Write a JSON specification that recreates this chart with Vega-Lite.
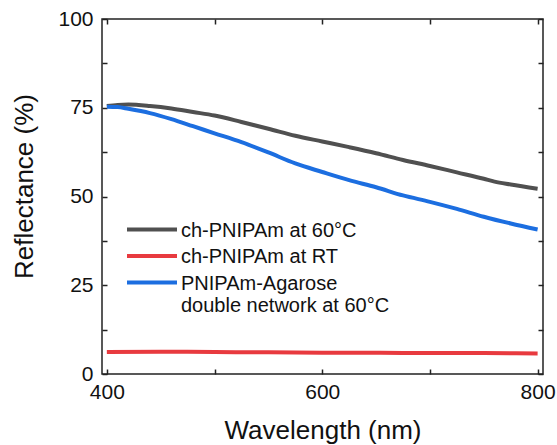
{
  "$schema": "https://vega.github.io/schema/vega-lite/v6.json",
  "width": 441,
  "height": 355,
  "autosize": {"type": "none"},
  "padding": {"left": 102, "top": 19, "right": 14, "bottom": 71},
  "config": {
    "font": "Liberation Sans",
    "view": {"stroke": "#222222", "strokeWidth": 1.5},
    "axis": {
      "grid": false,
      "domain": false,
      "offset": -5,
      "tickColor": "#222222",
      "tickWidth": 1.5,
      "tickSize": 5,
      "labelFont": "Liberation Sans",
      "labelFontSize": 21,
      "labelColor": "#111111",
      "titleFont": "Liberation Sans",
      "titleFontSize": 26,
      "titleFontWeight": "normal",
      "titleColor": "#111111"
    },
    "legend": {
      "orient": "none",
      "legendX": 23,
      "legendY": 203,
      "padding": 0,
      "symbolType": "M-1,-0.57H3",
      "symbolSize": 625,
      "symbolStrokeWidth": 4,
      "labelFont": "Liberation Sans",
      "labelFontSize": 20,
      "labelColor": "#111111",
      "labelBaseline": "alphabetic",
      "labelOffset": 27,
      "labelLimit": 400,
      "rowPadding": 5.5
    }
  },
  "data": {
    "values": [
      {"series": "ch-PNIPAm at 60°C", "wavelength": 400, "reflectance": 75.5},
      {"series": "ch-PNIPAm at 60°C", "wavelength": 410, "reflectance": 75.8},
      {"series": "ch-PNIPAm at 60°C", "wavelength": 420, "reflectance": 75.9},
      {"series": "ch-PNIPAm at 60°C", "wavelength": 440, "reflectance": 75.5},
      {"series": "ch-PNIPAm at 60°C", "wavelength": 460, "reflectance": 74.8},
      {"series": "ch-PNIPAm at 60°C", "wavelength": 480, "reflectance": 73.8},
      {"series": "ch-PNIPAm at 60°C", "wavelength": 500, "reflectance": 72.8},
      {"series": "ch-PNIPAm at 60°C", "wavelength": 525, "reflectance": 71.0},
      {"series": "ch-PNIPAm at 60°C", "wavelength": 550, "reflectance": 69.1},
      {"series": "ch-PNIPAm at 60°C", "wavelength": 575, "reflectance": 67.1},
      {"series": "ch-PNIPAm at 60°C", "wavelength": 600, "reflectance": 65.5},
      {"series": "ch-PNIPAm at 60°C", "wavelength": 625, "reflectance": 63.9},
      {"series": "ch-PNIPAm at 60°C", "wavelength": 650, "reflectance": 62.2},
      {"series": "ch-PNIPAm at 60°C", "wavelength": 675, "reflectance": 60.3},
      {"series": "ch-PNIPAm at 60°C", "wavelength": 700, "reflectance": 58.6},
      {"series": "ch-PNIPAm at 60°C", "wavelength": 725, "reflectance": 56.8},
      {"series": "ch-PNIPAm at 60°C", "wavelength": 750, "reflectance": 55.0},
      {"series": "ch-PNIPAm at 60°C", "wavelength": 760, "reflectance": 54.2},
      {"series": "ch-PNIPAm at 60°C", "wavelength": 775, "reflectance": 53.4},
      {"series": "ch-PNIPAm at 60°C", "wavelength": 800, "reflectance": 52.2},
      {"series": "ch-PNIPAm at RT", "wavelength": 400, "reflectance": 6.2},
      {"series": "ch-PNIPAm at RT", "wavelength": 450, "reflectance": 6.3},
      {"series": "ch-PNIPAm at RT", "wavelength": 500, "reflectance": 6.2},
      {"series": "ch-PNIPAm at RT", "wavelength": 550, "reflectance": 6.1},
      {"series": "ch-PNIPAm at RT", "wavelength": 600, "reflectance": 6.0},
      {"series": "ch-PNIPAm at RT", "wavelength": 650, "reflectance": 6.0},
      {"series": "ch-PNIPAm at RT", "wavelength": 700, "reflectance": 5.9},
      {"series": "ch-PNIPAm at RT", "wavelength": 750, "reflectance": 5.9},
      {"series": "ch-PNIPAm at RT", "wavelength": 800, "reflectance": 5.8},
      {"series": "PNIPAm-Agarose double network at 60°C", "wavelength": 400, "reflectance": 75.3},
      {"series": "PNIPAm-Agarose double network at 60°C", "wavelength": 410, "reflectance": 75.2},
      {"series": "PNIPAm-Agarose double network at 60°C", "wavelength": 420, "reflectance": 74.7},
      {"series": "PNIPAm-Agarose double network at 60°C", "wavelength": 440, "reflectance": 73.5},
      {"series": "PNIPAm-Agarose double network at 60°C", "wavelength": 460, "reflectance": 71.8},
      {"series": "PNIPAm-Agarose double network at 60°C", "wavelength": 480, "reflectance": 69.8},
      {"series": "PNIPAm-Agarose double network at 60°C", "wavelength": 500, "reflectance": 67.8},
      {"series": "PNIPAm-Agarose double network at 60°C", "wavelength": 525, "reflectance": 65.3},
      {"series": "PNIPAm-Agarose double network at 60°C", "wavelength": 550, "reflectance": 62.4},
      {"series": "PNIPAm-Agarose double network at 60°C", "wavelength": 575, "reflectance": 59.3},
      {"series": "PNIPAm-Agarose double network at 60°C", "wavelength": 600, "reflectance": 56.9},
      {"series": "PNIPAm-Agarose double network at 60°C", "wavelength": 625, "reflectance": 54.6},
      {"series": "PNIPAm-Agarose double network at 60°C", "wavelength": 650, "reflectance": 52.6},
      {"series": "PNIPAm-Agarose double network at 60°C", "wavelength": 675, "reflectance": 50.3},
      {"series": "PNIPAm-Agarose double network at 60°C", "wavelength": 700, "reflectance": 48.5},
      {"series": "PNIPAm-Agarose double network at 60°C", "wavelength": 725, "reflectance": 46.5},
      {"series": "PNIPAm-Agarose double network at 60°C", "wavelength": 750, "reflectance": 44.3},
      {"series": "PNIPAm-Agarose double network at 60°C", "wavelength": 775, "reflectance": 42.4},
      {"series": "PNIPAm-Agarose double network at 60°C", "wavelength": 800, "reflectance": 40.7}
    ]
  },
  "layer": [
    {
      "mark": {"type": "line", "strokeWidth": 4, "interpolate": "monotone"},
      "encoding": {
        "x": {
          "field": "wavelength",
          "type": "quantitative",
          "scale": {"domain": [395.5, 805], "nice": false, "zero": false},
          "axis": {
            "orient": "bottom",
            "values": [400, 500, 600, 700, 800],
            "labelExpr": "datum.value % 200 == 0 ? '' + datum.value : ''",
            "labelPadding": 7,
            "title": "Wavelength (nm)",
            "titleY": 69,
            "titleBaseline": "alphabetic"
          }
        },
        "y": {
          "field": "reflectance",
          "type": "quantitative",
          "scale": {"domain": [0, 100], "nice": false},
          "axis": {
            "orient": "left",
            "values": [0, 12.5, 25, 37.5, 50, 62.5, 75, 87.5, 100],
            "labelExpr": "datum.value % 25 == 0 ? '' + datum.value : ''",
            "labelPadding": 9,
            "title": "Reflectance (%)",
            "titleX": -75,
            "titleY": 167,
            "titleBaseline": "alphabetic"
          }
        },
        "color": {
          "field": "series",
          "type": "nominal",
          "scale": {
            "domain": ["ch-PNIPAm at 60°C", "ch-PNIPAm at RT", "PNIPAm-Agarose double network at 60°C"],
            "range": ["#505050", "#e83a3f", "#1c6ee0"]
          },
          "legend": {
            "title": null,
            "labelExpr": "datum.label == 'PNIPAm-Agarose double network at 60°C' ? ['PNIPAm-Agarose', 'double network at 60°C'] : datum.label"
          }
        }
      }
    },
    {
      "mark": {"type": "line", "opacity": 0},
      "encoding": {
        "x": {
          "field": "wavelength",
          "type": "quantitative",
          "axis": {"orient": "top", "values": [400, 500, 600, 700, 800], "labels": false, "title": null}
        },
        "y": {
          "field": "reflectance",
          "type": "quantitative",
          "axis": {"orient": "right", "values": [0, 12.5, 25, 37.5, 50, 62.5, 75, 87.5, 100], "labels": false, "title": null}
        },
        "detail": {"field": "series", "type": "nominal"}
      }
    }
  ],
  "resolve": {"axis": {"x": "independent", "y": "independent"}}
}
